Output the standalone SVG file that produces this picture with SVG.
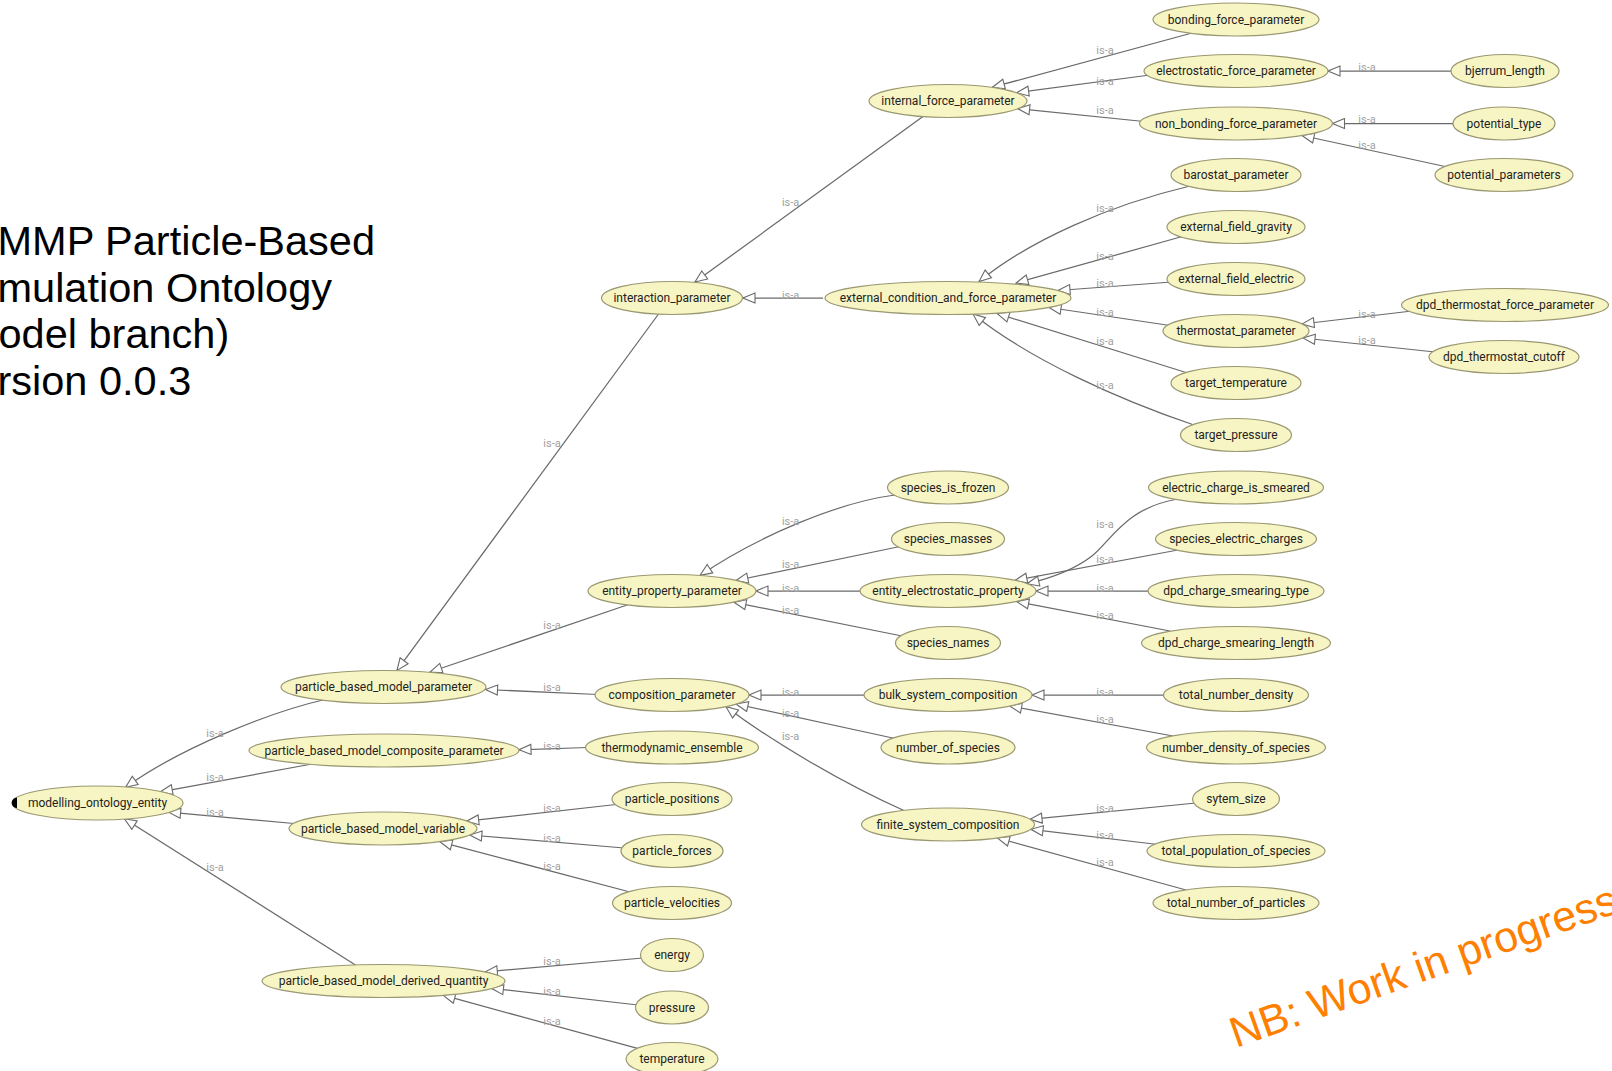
<svg xmlns="http://www.w3.org/2000/svg" width="1612" height="1071" viewBox="0 0 1612 1071">
<style>
.node ellipse{fill:#f8f5c4;stroke:#9a9872;stroke-width:1.2}
.node text{font-family:Roboto,"Noto Sans",sans-serif;font-size:12px;fill:#222;text-anchor:middle}
.edge{fill:none;stroke:#6a6a6a;stroke-width:1.25;marker-end:url(#isa)}
.lbl{font-family:Roboto,"Noto Sans",sans-serif;font-size:11px;fill:#a0a0a0;text-anchor:middle}
.title{font-family:"Liberation Sans",Arial,sans-serif;font-size:41.5px;fill:#000}
.nb{font-family:"Liberation Sans",Arial,sans-serif;font-size:43px;fill:#ff8000}
</style>
<defs>
<marker id="isa" markerUnits="userSpaceOnUse" markerWidth="15" markerHeight="12" viewBox="0 0 15 12" refX="13.5" refY="6" orient="auto">
<path d="M1.5,1 L13.5,6 L1.5,11 Z" fill="#fff" stroke="#6a6a6a" stroke-width="1.1"/>
</marker>
</defs>
<rect width="1612" height="1071" fill="#fff"/>
<g id="title">
<text class="title" x="-2.5" y="255">MMP Particle-Based</text>
<text class="title" x="-2.5" y="301.7">mulation Ontology</text>
<text class="title" x="-1.5" y="348">odel branch)</text>
<text class="title" x="-2.5" y="395">rsion 0.0.3</text>
</g>
<g id="connectors">
<path class="edge" d="M1192,33 L992.5,87.2"/>
<path class="edge" d="M1150,75 L1016.7,92.7"/>
<path class="edge" d="M1144,121.5 L1017.6,108.6"/>
<path class="edge" d="M1455,71 L1328,71"/>
<path class="edge" d="M1457,123.5 L1332.5,123.5"/>
<path class="edge" d="M1452,168 L1302,135.5"/>
<path class="edge" d="M925,115 L695,282"/>
<path class="edge" d="M1190,186 C1110,205 1030,240 979,281.5"/>
<path class="edge" d="M1184,236 L1016,283"/>
<path class="edge" d="M1172,282 L1058,290.5"/>
<path class="edge" d="M1170,325.5 L1049,307.5"/>
<path class="edge" d="M1186,372.5 L997,313.5"/>
<path class="edge" d="M1194,425 C1120,400 1030,360 973,314"/>
<path class="edge" d="M1412,311 L1302,324"/>
<path class="edge" d="M1435,352 L1303,338"/>
<path class="edge" d="M823,298 L743,298"/>
<path class="edge" d="M660,312 L397,670.4"/>
<path class="edge" d="M630,604 L430,672"/>
<path class="edge" d="M598,694.5 L485.5,689.5"/>
<path class="edge" d="M895,495 C840,502 760,535 700,575.4"/>
<path class="edge" d="M900,546.5 L736,580.5"/>
<path class="edge" d="M862,591 L756,591"/>
<path class="edge" d="M902,636 L734,602.3"/>
<path class="edge" d="M1178,499 C1125,508 1112,540 1092,556 C1075,569 1052,578 1027,583.8"/>
<path class="edge" d="M1178,550 L1015,580.4"/>
<path class="edge" d="M1151,591 L1036,591"/>
<path class="edge" d="M1170,631 L1016.7,601.6"/>
<path class="edge" d="M866,695 L749,695"/>
<path class="edge" d="M895,738.5 L736,704"/>
<path class="edge" d="M905,811 C840,782 770,740 726,706.7"/>
<path class="edge" d="M1166,695 L1032,695"/>
<path class="edge" d="M1173,736 L1009.6,706"/>
<path class="edge" d="M1196,803 L1030,819.3"/>
<path class="edge" d="M1158,844.5 L1031,829.3"/>
<path class="edge" d="M1186,890 L997.3,838"/>
<path class="edge" d="M587,747.5 L519,749.8"/>
<path class="edge" d="M325,699.5 C270,712 180,748 125.5,787.4"/>
<path class="edge" d="M312,764 L160.4,791.8"/>
<path class="edge" d="M294,823.5 L168.6,812.2"/>
<path class="edge" d="M357,966 L124.4,818.7"/>
<path class="edge" d="M616,804.5 L466.7,821.2"/>
<path class="edge" d="M624,848 L469.8,835"/>
<path class="edge" d="M630,892 L440,841.8"/>
<path class="edge" d="M643,958 L485.3,971.8"/>
<path class="edge" d="M638,1005 L491.4,988.3"/>
<path class="edge" d="M638.4,1048.7 L443,995.2"/>
<text class="lbl" x="1105" y="53.5">is-a</text>
<text class="lbl" x="1105" y="84.7">is-a</text>
<text class="lbl" x="1105" y="113.5">is-a</text>
<text class="lbl" x="1367" y="71.4">is-a</text>
<text class="lbl" x="1367" y="122.8">is-a</text>
<text class="lbl" x="1367" y="148.5">is-a</text>
<text class="lbl" x="790.6" y="206">is-a</text>
<text class="lbl" x="1105" y="212.2">is-a</text>
<text class="lbl" x="1105" y="259.5">is-a</text>
<text class="lbl" x="1105" y="287.3">is-a</text>
<text class="lbl" x="1105" y="316">is-a</text>
<text class="lbl" x="1105" y="344.8">is-a</text>
<text class="lbl" x="1105" y="389">is-a</text>
<text class="lbl" x="1367" y="318.1">is-a</text>
<text class="lbl" x="1367" y="343.8">is-a</text>
<text class="lbl" x="790.6" y="298.5">is-a</text>
<text class="lbl" x="552" y="446.5">is-a</text>
<text class="lbl" x="552" y="628.5">is-a</text>
<text class="lbl" x="552" y="691.3">is-a</text>
<text class="lbl" x="790.6" y="524.7">is-a</text>
<text class="lbl" x="790.6" y="567.9">is-a</text>
<text class="lbl" x="790.6" y="591.5">is-a</text>
<text class="lbl" x="790.6" y="614.2">is-a</text>
<text class="lbl" x="1105" y="527.8">is-a</text>
<text class="lbl" x="1105" y="562.8">is-a</text>
<text class="lbl" x="1105" y="591.5">is-a</text>
<text class="lbl" x="1105" y="619.3">is-a</text>
<text class="lbl" x="790.6" y="695.5">is-a</text>
<text class="lbl" x="790.6" y="717">is-a</text>
<text class="lbl" x="790.6" y="739.5">is-a</text>
<text class="lbl" x="1105" y="695.5">is-a</text>
<text class="lbl" x="1105" y="723.2">is-a</text>
<text class="lbl" x="1105" y="811.5">is-a</text>
<text class="lbl" x="1105" y="839.3">is-a</text>
<text class="lbl" x="1105" y="866.1">is-a</text>
<text class="lbl" x="552" y="749.9">is-a</text>
<text class="lbl" x="215" y="736.5">is-a</text>
<text class="lbl" x="215" y="780.7">is-a</text>
<text class="lbl" x="215" y="815.7">is-a</text>
<text class="lbl" x="215" y="871.2">is-a</text>
<text class="lbl" x="552" y="811.5">is-a</text>
<text class="lbl" x="552" y="841.5">is-a</text>
<text class="lbl" x="552" y="870.2">is-a</text>
<text class="lbl" x="552" y="964.8">is-a</text>
<text class="lbl" x="552" y="994.5">is-a</text>
<text class="lbl" x="552" y="1024.5">is-a</text>
</g>
<g id="n-bonding_force_parameter" class="node"><ellipse cx="1236" cy="19.5" rx="83" ry="16.5"/><text x="1236" y="23.5">bonding_force_parameter</text></g>
<g id="n-electrostatic_force_parameter" class="node"><ellipse cx="1236" cy="71" rx="92" ry="16.5"/><text x="1236" y="75">electrostatic_force_parameter</text></g>
<g id="n-bjerrum_length" class="node"><ellipse cx="1505" cy="71" rx="54" ry="16.5"/><text x="1505" y="75">bjerrum_length</text></g>
<g id="n-internal_force_parameter" class="node"><ellipse cx="948" cy="101" rx="79" ry="16.5"/><text x="948" y="105">internal_force_parameter</text></g>
<g id="n-non_bonding_force_parameter" class="node"><ellipse cx="1236" cy="123.5" rx="96.5" ry="16.5"/><text x="1236" y="127.5">non_bonding_force_parameter</text></g>
<g id="n-potential_type" class="node"><ellipse cx="1504" cy="123.5" rx="51" ry="16.5"/><text x="1504" y="127.5">potential_type</text></g>
<g id="n-barostat_parameter" class="node"><ellipse cx="1236" cy="175" rx="65" ry="16.5"/><text x="1236" y="179">barostat_parameter</text></g>
<g id="n-potential_parameters" class="node"><ellipse cx="1504" cy="175" rx="69" ry="16.5"/><text x="1504" y="179">potential_parameters</text></g>
<g id="n-external_field_gravity" class="node"><ellipse cx="1236" cy="227" rx="69" ry="16.5"/><text x="1236" y="231">external_field_gravity</text></g>
<g id="n-external_field_electric" class="node"><ellipse cx="1236" cy="279" rx="69" ry="16.5"/><text x="1236" y="283">external_field_electric</text></g>
<g id="n-interaction_parameter" class="node"><ellipse cx="672" cy="298" rx="70.5" ry="16.5"/><text x="672" y="302">interaction_parameter</text></g>
<g id="n-external_condition_and_force_parameter" class="node"><ellipse cx="948" cy="298" rx="123" ry="16.5"/><text x="948" y="302">external_condition_and_force_parameter</text></g>
<g id="n-dpd_thermostat_force_parameter" class="node"><ellipse cx="1505" cy="305" rx="103.5" ry="16.5"/><text x="1505" y="309">dpd_thermostat_force_parameter</text></g>
<g id="n-thermostat_parameter" class="node"><ellipse cx="1236" cy="331" rx="73" ry="16.5"/><text x="1236" y="335">thermostat_parameter</text></g>
<g id="n-dpd_thermostat_cutoff" class="node"><ellipse cx="1504" cy="357" rx="75" ry="16.5"/><text x="1504" y="361">dpd_thermostat_cutoff</text></g>
<g id="n-target_temperature" class="node"><ellipse cx="1236" cy="383" rx="65" ry="16.5"/><text x="1236" y="387">target_temperature</text></g>
<g id="n-target_pressure" class="node"><ellipse cx="1236" cy="435" rx="55.5" ry="16.5"/><text x="1236" y="439">target_pressure</text></g>
<g id="n-species_is_frozen" class="node"><ellipse cx="948" cy="487.5" rx="60.5" ry="16.5"/><text x="948" y="491.5">species_is_frozen</text></g>
<g id="n-electric_charge_is_smeared" class="node"><ellipse cx="1236" cy="487.5" rx="87.5" ry="16.5"/><text x="1236" y="491.5">electric_charge_is_smeared</text></g>
<g id="n-species_masses" class="node"><ellipse cx="948" cy="539" rx="56.5" ry="16.5"/><text x="948" y="543">species_masses</text></g>
<g id="n-species_electric_charges" class="node"><ellipse cx="1236" cy="539" rx="80.5" ry="16.5"/><text x="1236" y="543">species_electric_charges</text></g>
<g id="n-entity_property_parameter" class="node"><ellipse cx="672" cy="591" rx="84" ry="16.5"/><text x="672" y="595">entity_property_parameter</text></g>
<g id="n-entity_electrostatic_property" class="node"><ellipse cx="948" cy="591" rx="88" ry="16.5"/><text x="948" y="595">entity_electrostatic_property</text></g>
<g id="n-dpd_charge_smearing_type" class="node"><ellipse cx="1236" cy="591" rx="88" ry="16.5"/><text x="1236" y="595">dpd_charge_smearing_type</text></g>
<g id="n-species_names" class="node"><ellipse cx="948" cy="643" rx="52.5" ry="16.5"/><text x="948" y="647">species_names</text></g>
<g id="n-dpd_charge_smearing_length" class="node"><ellipse cx="1236" cy="643" rx="94.5" ry="16.5"/><text x="1236" y="647">dpd_charge_smearing_length</text></g>
<g id="n-particle_based_model_parameter" class="node"><ellipse cx="383.5" cy="687" rx="102.5" ry="16.5"/><text x="383.5" y="691">particle_based_model_parameter</text></g>
<g id="n-composition_parameter" class="node"><ellipse cx="672" cy="695" rx="77" ry="16.5"/><text x="672" y="699">composition_parameter</text></g>
<g id="n-bulk_system_composition" class="node"><ellipse cx="948" cy="695" rx="84" ry="16.5"/><text x="948" y="699">bulk_system_composition</text></g>
<g id="n-total_number_density" class="node"><ellipse cx="1236" cy="695" rx="72.5" ry="16.5"/><text x="1236" y="699">total_number_density</text></g>
<g id="n-particle_based_model_composite_parameter" class="node"><ellipse cx="384" cy="750.5" rx="135" ry="16.5"/><text x="384" y="754.5">particle_based_model_composite_parameter</text></g>
<g id="n-thermodynamic_ensemble" class="node"><ellipse cx="672" cy="747.5" rx="86.5" ry="16.5"/><text x="672" y="751.5">thermodynamic_ensemble</text></g>
<g id="n-number_of_species" class="node"><ellipse cx="948" cy="747.5" rx="67" ry="16.5"/><text x="948" y="751.5">number_of_species</text></g>
<g id="n-number_density_of_species" class="node"><ellipse cx="1236" cy="747.5" rx="89.5" ry="16.5"/><text x="1236" y="751.5">number_density_of_species</text></g>
<g id="n-particle_positions" class="node"><ellipse cx="672" cy="799" rx="60" ry="16.5"/><text x="672" y="803">particle_positions</text></g>
<g id="n-sytem_size" class="node"><ellipse cx="1236" cy="799" rx="43.5" ry="16.5"/><text x="1236" y="803">sytem_size</text></g>
<g id="n-modelling_ontology_entity" class="node"><ellipse cx="97.5" cy="803" rx="85.5" ry="17"/><path d="M17,797.5 A5,5 0 0 0 17,808 Z" fill="#000"/><text x="97.5" y="807">modelling_ontology_entity</text></g>
<g id="n-particle_based_model_variable" class="node"><ellipse cx="383" cy="828.5" rx="94" ry="16.5"/><text x="383" y="832.5">particle_based_model_variable</text></g>
<g id="n-finite_system_composition" class="node"><ellipse cx="948" cy="824.5" rx="86.5" ry="16.5"/><text x="948" y="828.5">finite_system_composition</text></g>
<g id="n-particle_forces" class="node"><ellipse cx="672" cy="851" rx="51" ry="16.5"/><text x="672" y="855">particle_forces</text></g>
<g id="n-total_population_of_species" class="node"><ellipse cx="1236" cy="851" rx="89" ry="16.5"/><text x="1236" y="855">total_population_of_species</text></g>
<g id="n-particle_velocities" class="node"><ellipse cx="672" cy="903" rx="59.5" ry="16.5"/><text x="672" y="907">particle_velocities</text></g>
<g id="n-total_number_of_particles" class="node"><ellipse cx="1236" cy="903" rx="83" ry="16.5"/><text x="1236" y="907">total_number_of_particles</text></g>
<g id="n-energy" class="node"><ellipse cx="672" cy="955" rx="31.5" ry="16.5"/><text x="672" y="959">energy</text></g>
<g id="n-particle_based_model_derived_quantity" class="node"><ellipse cx="383.5" cy="981" rx="121.5" ry="16.5"/><text x="383.5" y="985">particle_based_model_derived_quantity</text></g>
<g id="n-pressure" class="node"><ellipse cx="672" cy="1007.5" rx="36.5" ry="16.5"/><text x="672" y="1011.5">pressure</text></g>
<g id="n-temperature" class="node"><ellipse cx="672" cy="1059" rx="46" ry="16.5"/><text x="672" y="1063">temperature</text></g>
<text class="nb" x="1236" y="1048" transform="rotate(-19.5 1236 1048)">NB: Work in progress</text>
</svg>
